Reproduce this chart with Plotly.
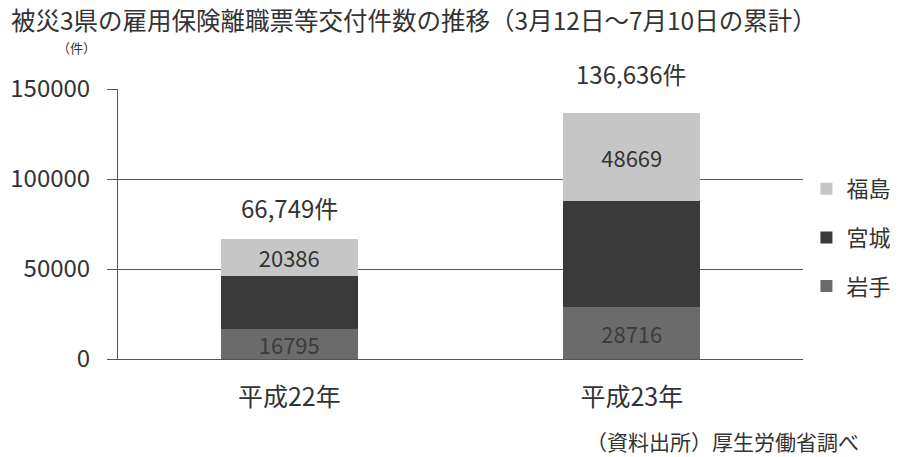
import plotly.graph_objects as go

# Cumulative counts of employment-insurance separation notices, Mar 12 - Jul 10
years = ["平成22年", "平成23年"]
iwate = [16795, 28716]
miyagi = [29568, 59251]
fukushima = [20386, 48669]
totals = [66749, 136636]
total_labels = ["66,749件", "136,636件"]
y_ticks = [0, 50000, 100000, 150000]

FONT = "Noto Sans CJK JP"
TEXT = "#333333"

fig = go.Figure()

fig.add_trace(go.Bar(
    name="岩手", x=years, y=iwate, legendgroup="iwate", legendrank=3,
    marker=dict(color="#6b6b6b", line=dict(width=0)),
    text=[f"{v}" for v in iwate], textposition="inside", constraintext="none",
    insidetextanchor="middle", textfont=dict(size=22, color="#3c3c3c", family=FONT),
))
fig.add_trace(go.Bar(
    name="宮城", x=years, y=miyagi, legendgroup="miyagi", legendrank=2,
    marker=dict(color="#3a3a3a", line=dict(width=0)),
    hoverinfo="y",
))
fig.add_trace(go.Bar(
    name="福島", x=years, y=fukushima, legendgroup="fukushima", legendrank=1,
    marker=dict(color="#c6c6c6", line=dict(width=0)),
    text=[f"{v}" for v in fukushima], textposition="inside", constraintext="none",
    insidetextanchor="middle", textfont=dict(size=22, color="#333333", family=FONT),
))

# Total labels above each stack
for yr, tot, lab, shift in zip(years, totals, total_labels, [12, 20]):
    fig.add_annotation(
        x=yr, y=tot, text=lab, showarrow=False, yanchor="bottom", yshift=shift,
        font=dict(size=24, color=TEXT, family=FONT),
    )

# Title, unit and source notes
fig.add_annotation(
    xref="paper", yref="paper", x=-0.158, y=1.259, xanchor="left", yanchor="middle",
    text="被災3県の雇用保険離職票等交付件数の推移（3月12日～7月10日の累計）",
    showarrow=False, font=dict(size=24.5, color=TEXT, family=FONT), borderpad=0,
)
fig.add_annotation(
    xref="paper", yref="paper", x=-0.06, y=1.152, xanchor="center", yanchor="middle",
    text="（件）", showarrow=False, font=dict(size=13, color=TEXT, family=FONT), borderpad=0,
)
fig.add_annotation(
    xref="paper", yref="paper", x=1.085, y=-0.305, xanchor="right", yanchor="middle",
    text="（資料出所）厚生労働省調べ", showarrow=False,
    font=dict(size=21, color=TEXT, family=FONT),
)

fig.update_layout(
    width=900, height=457,
    margin=dict(l=118, r=97, t=89, b=98, autoexpand=False),
    paper_bgcolor="white", plot_bgcolor="white",
    barmode="stack", bargap=0.6,
    font=dict(family=FONT, color=TEXT),
    showlegend=True,
    legend=dict(
        x=1.005, y=0.45, xanchor="left", yanchor="middle",
        traceorder="grouped", tracegroupgap=17,
        font=dict(size=22, color=TEXT, family=FONT),
        itemwidth=30,
    ),
    xaxis=dict(
        showline=True, linecolor="#555555", linewidth=1,
        ticks="", tickfont=dict(size=25, color=TEXT, family=FONT),
        ticklabelstandoff=16, showgrid=False,
    ),
    yaxis=dict(
        range=[0, 150000], tickvals=y_ticks, ticktext=[str(v) for v in y_ticks],
        showgrid=True, gridcolor="#5a5a5a", gridwidth=1,
        showline=True, linecolor="#555555", linewidth=1,
        ticks="outside", ticklen=10, tickcolor="#555555", ticklabelstandoff=12,
        tickfont=dict(size=24, color=TEXT, family=FONT),
        zeroline=False,
    ),
)

fig.write_html("out.html")
